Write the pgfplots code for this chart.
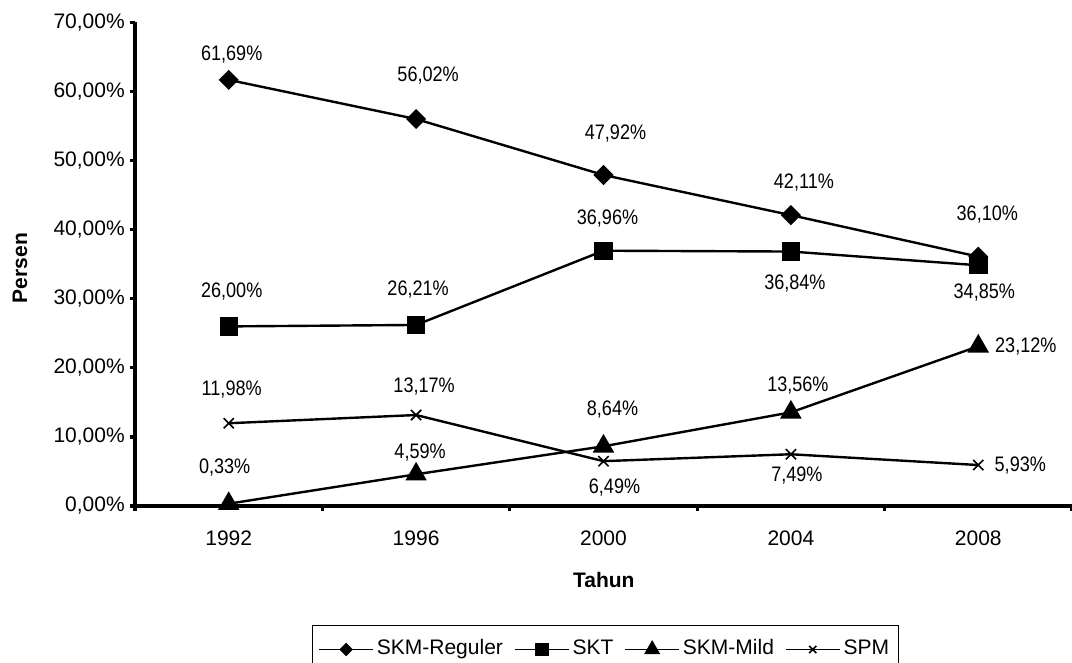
\documentclass[border=0pt]{standalone}
\usepackage{pgfplots}
\usepackage{pgfplotstable}
\pgfplotsset{compat=1.18}
\usepackage{fontspec}
\setmainfont{Liberation Sans}
\newfontfamily\labfont[FakeStretch=0.86]{Liberation Sans}

% x = category index (1992..2008), y = percent, dx/dy = label offset in px
\pgfplotstableread{
x y dx dy
0 61.69 3 25
1 56.02 12 44
2 47.92 12 41
3 42.11 13 32.5
4 36.10 9 42
}\skmreg
\pgfplotstableread{
x y dx dy
0 26.00 3 35
1 26.21 2 35
2 36.96 4 32
3 36.84 4 -32
4 34.85 6 -27
}\skt
\pgfplotstableread{
x y dx dy
0 0.33 -4 36
1 4.59 4 22
2 8.64 9 37
3 13.56 7 27
4 23.12 47.5 0
}\skmmild
\pgfplotstableread{
x y dx dy
0 11.98 3 34
1 13.17 8 29
2 6.49 11 -26
3 7.49 6 -21.5
4 5.93 42 0
}\spm

\begin{document}
\begin{tikzpicture}[font=\fontsize{10.5}{12.6}\selectfont]
\begin{axis}[
  at={(67.5pt,78.5pt)}, anchor=south west,
  scale only axis, width=468.5pt, height=241.75pt,
  xmin=-0.5, xmax=4.5, ymin=0, ymax=70,
  axis x line=bottom, axis y line=left,
  axis line style={-, line width=2pt, black},
  tick align=outside,
  xtick={0,1,2,3,4},
  xticklabels={1992,1996,2000,2004,2008},
  minor xtick={-0.5,0.5,1.5,2.5,3.5,4.5},
  major x tick style={draw=none},
  ytick={0,10,20,30,40,50,60,70},
  yticklabels={{0,00\%},{10,00\%},{20,00\%},{30,00\%},{40,00\%},{50,00\%},{60,00\%},{70,00\%}},
  major tick length=2.6pt, minor tick length=2.4pt,
  tick style={line width=1.6pt, black},
  ticklabel style={font=\fontsize{10.5}{12.6}\selectfont},
  yticklabel style={anchor=east, xshift=1pt},
  xticklabel style={anchor=north, yshift=-6.5pt},
  xlabel={Tahun}, ylabel={Persen},
  label style={font=\fontsize{10.5}{12.6}\selectfont\bfseries},
  xlabel style={at={(axis description cs:0.5003,-0.153)}, anchor=center},
  ylabel style={at={(axis description cs:-0.1227,0.492)}, anchor=center},
  clip=false,
  nodes near coords={\pgfmathprintnumber[fixed, fixed zerofill, precision=2, use comma, assume math mode=true]{\pgfplotspointmeta}\%},
  visualization depends on={\thisrow{dx} \as \dx},
  visualization depends on={\thisrow{dy} \as \dy},
  every node near coord/.append style={anchor=center, font=\labfont\fontsize{10.5}{12.6}\selectfont, black, xshift={\dx*0.5pt}, yshift={\dy*0.5pt}},
  legend columns=-1,
  legend style={at={(axis description cs:0.1889,-0.2461)}, anchor=north west,
    draw=black, line width=0.5pt, inner xsep=3pt, inner ysep=4.75pt,
    font=\fontsize{10.5}{12.6}\selectfont,
    nodes={inner xsep=1.6pt, inner ysep=2pt, text height=8pt, text depth=2.5pt},
    /tikz/every even column/.append style={column sep=4pt}},
  legend image code/.code={\draw[mark repeat=2,mark phase=2,#1] plot coordinates {(0pt,0pt) (13.5pt,0pt) (27pt,0pt)};},
]
\addplot[black, line width=1.2pt, mark=square*, mark size=2.95pt, mark options={solid, rotate=45},
  legend image post style={mark size=2.1pt, line width=0.6pt}] table[x=x,y=y] {\skmreg};
\addlegendentry{SKM-Reguler}
\addplot[black, line width=1.2pt, mark=square*, mark size=4pt, mark options={solid},
  legend image post style={mark size=3.1pt, line width=0.6pt}] table[x=x,y=y] {\skt};
\addlegendentry{SKT}
\addplot[black, line width=1.2pt, mark=triangle*, mark size=5pt, mark options={solid},
  legend image post style={mark size=4.1pt, line width=0.6pt}] table[x=x,y=y] {\skmmild};
\addlegendentry{SKM-Mild}
\addplot[black, line width=1.2pt, mark=x, mark size=3.6pt, mark options={solid, line width=0.8pt},
  legend image post style={mark size=2.5pt, line width=0.6pt}] table[x=x,y=y] {\spm};
\addlegendentry{SPM}
\end{axis}
\pgfresetboundingbox
\path[use as bounding box] (0pt,0pt) rectangle (536pt,331.5pt);
\end{tikzpicture}
\end{document}
